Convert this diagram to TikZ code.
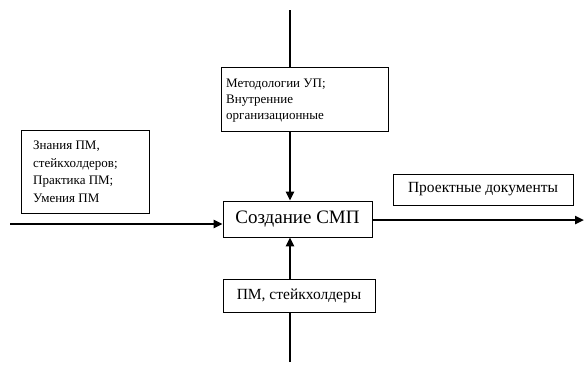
\documentclass[tikz,border=0pt]{standalone}
\usepackage{fontspec}
\setmainfont{Liberation Serif}
\usetikzlibrary{arrows.meta}

\tikzset{
    box/.style={draw, line width=0.8pt, inner sep=0pt},
    flow/.style={line width=2.6pt, -{Triangle[length=9pt,width=8pt]}},
    wire/.style={line width=2.6pt}
}

\begin{document}
\begin{tikzpicture}[x=1pt,y=-1pt]
    \useasboundingbox (0,0) rectangle (586,367);

    % boxes
    \node[box, minimum width=167pt, minimum height=64pt] (ctrl) at (305,99) {};
    \node[anchor=north west, align=left, inner sep=0pt, font=\fontsize{13}{16}\selectfont]
        (ctrltxt) at (226,79) {Методологии УП;\\Внутренние\\организационные};

    \node[box, minimum width=128pt, minimum height=83pt] (inp) at (85,171.5) {};
    \node[anchor=north west, align=left, inner sep=0pt, font=\fontsize{13}{17.5}\selectfont]
        (inptxt) at (33,141) {Знания ПМ,\\стейкхолдеров;\\Практика ПМ;\\Умения ПМ};

    \node[box, minimum width=149pt, minimum height=36pt, font=\fontsize{19}{22}\selectfont]
        (main) at (297.5,219) {Создание СМП};

    \node[box, minimum width=180pt, minimum height=31pt, font=\fontsize{15.5}{18}\selectfont]
        (outp) at (483,189.5) {Проектные документы};

    \node[box, minimum width=152pt, minimum height=33pt, font=\fontsize{15.5}{18}\selectfont]
        (mech) at (299,295.5) {ПМ, стейкхолдеры};

    % connectors
    \coordinate (top) at (290,10);
    \coordinate (left) at (10,224);
    \coordinate (right) at (584,220);
    \coordinate (bottom) at (290,362);

    \draw[wire] (top) -- (top |- ctrl.north);
    \draw[flow] (top |- ctrl.south) -- (top |- main.north);
    \draw[flow] (left) -- (left -| main.west);
    \draw[flow] (right -| main.east) -- (right);
    \draw[wire] (bottom) -- (bottom |- mech.south);
    \draw[flow] (bottom |- mech.north) -- (bottom |- main.south);
\end{tikzpicture}
\end{document}
